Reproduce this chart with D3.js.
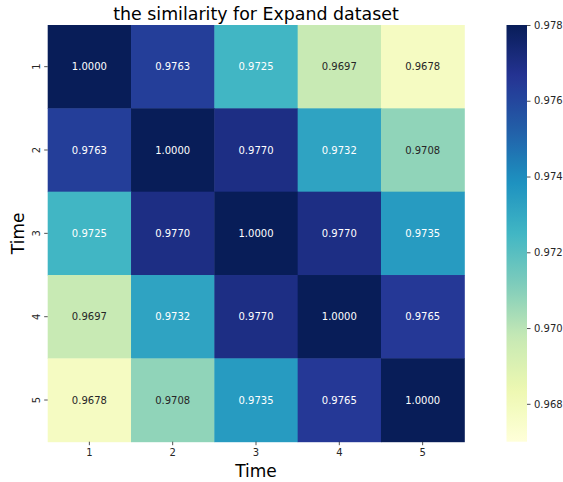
<!DOCTYPE html>
<html>
<head>
<meta charset="utf-8">
<script src="https://cdn.jsdelivr.net/npm/d3@7"></script>
<style>
  html, body { margin: 0; padding: 0; background: #fff; }
  svg { display: block; font-family: "DejaVu Sans", sans-serif; }
</style>
</head>
<body>
<svg id="chart" width="563" height="482"></svg>
<script>
// Pairwise similarity between time steps
const rowLabels = ["1", "2", "3", "4", "5"];
const colLabels = ["1", "2", "3", "4", "5"];
const row1 = [1.0000, 0.9763, 0.9725, 0.9697, 0.9678];
const row2 = [0.9763, 1.0000, 0.9770, 0.9732, 0.9708];
const row3 = [0.9725, 0.9770, 1.0000, 0.9770, 0.9735];
const row4 = [0.9697, 0.9732, 0.9770, 1.0000, 0.9765];
const row5 = [0.9678, 0.9708, 0.9735, 0.9765, 1.0000];
const matrix = [row1, row2, row3, row4, row5];
const colorbarTicks = [0.968, 0.970, 0.972, 0.974, 0.976, 0.978];
const vmin = 0.967, vmax = 0.978;

const svg = d3.select("#chart");

// Layout
const plotLeft = 47.7, plotRight = 464.3, plotTop = 25, plotBottom = 441.7;
const cbLeft = 506.5, cbRight = 527;

const x = d3.scaleBand().domain(colLabels).range([plotLeft, plotRight]).padding(0);
const y = d3.scaleBand().domain(rowLabels).range([plotTop, plotBottom]).padding(0);

// YlGnBu, linear between the nine ColorBrewer stops
const stops = ["#ffffd9", "#edf8b1", "#c7e9b4", "#7fcdbb", "#41b6c4", "#1d91c0", "#225ea8", "#253494", "#081d58"];
const ramp = d3.scaleLinear()
  .domain(stops.map((_, i) => i / (stops.length - 1)))
  .range(stops)
  .interpolate(d3.interpolateRgb)
  .clamp(true);
const norm = d3.scaleLinear().domain([vmin, vmax]).range([0, 1]).clamp(true);
const color = v => ramp(norm(v));

const cells = [];
matrix.forEach((row, i) => row.forEach((v, j) => cells.push({ r: rowLabels[i], c: colLabels[j], v })));

svg.append("g").selectAll("rect").data(cells).join("rect")
  .attr("x", d => x(d.c))
  .attr("y", d => y(d.r))
  .attr("width", x.bandwidth() + 0.5)
  .attr("height", y.bandwidth() + 0.5)
  .attr("fill", d => color(d.v));

// Annotation text colour follows cell luminance
function lum(c) {
  const rgb = d3.rgb(c);
  const f = u => { u /= 255; return u <= 0.03928 ? u / 12.92 : Math.pow((u + 0.055) / 1.055, 2.4); };
  return 0.2126 * f(rgb.r) + 0.7152 * f(rgb.g) + 0.0722 * f(rgb.b);
}

svg.append("g").selectAll("text").data(cells).join("text")
  .attr("x", d => x(d.c) + x.bandwidth() / 2)
  .attr("y", d => y(d.r) + y.bandwidth() / 2)
  .attr("text-anchor", "middle")
  .attr("dominant-baseline", "central")
  .attr("font-size", 10)
  .attr("fill", d => lum(color(d.v)) > 0.408 ? "#262626" : "#ffffff")
  .text(d => d.v.toFixed(4));

// Axes
const xAxis = svg.append("g")
  .attr("transform", `translate(0,${plotBottom})`)
  .call(d3.axisBottom(x).tickSize(3.5).tickPadding(3.5));
const yAxis = svg.append("g")
  .attr("transform", `translate(${plotLeft},0)`)
  .call(d3.axisLeft(y).tickSize(3.5).tickPadding(3.5));
[xAxis, yAxis].forEach(g => {
  g.select(".domain").remove();
  g.selectAll("line").attr("stroke", "#262626").attr("stroke-width", 0.8);
  g.selectAll("text").attr("fill", "#262626").attr("font-size", 10).attr("font-family", "DejaVu Sans, sans-serif");
});
yAxis.selectAll(".tick text")
  .attr("text-anchor", "middle")
  .attr("dy", null)
  .attr("x", null)
  .attr("transform", "translate(-11,0) rotate(-90)")
  .attr("dominant-baseline", "central");

// Titles
svg.append("text")
  .attr("x", (plotLeft + plotRight) / 2).attr("y", 20)
  .attr("text-anchor", "middle").attr("font-size", 17.4).attr("fill", "#000")
  .text("the similarity for Expand dataset");
svg.append("text")
  .attr("x", (plotLeft + plotRight) / 2).attr("y", 476.5)
  .attr("text-anchor", "middle").attr("font-size", 17).attr("fill", "#000")
  .text("Time");
svg.append("text")
  .attr("transform", `translate(23.5,${(plotTop + plotBottom) / 2}) rotate(-90)`)
  .attr("text-anchor", "middle").attr("font-size", 17).attr("fill", "#000")
  .text("Time");

// Colorbar
const cbScale = d3.scaleLinear().domain([vmin, vmax]).range([plotBottom, plotTop]);
const grad = svg.append("defs").append("linearGradient")
  .attr("id", "cbgrad").attr("x1", 0).attr("y1", 1).attr("x2", 0).attr("y2", 0);
d3.range(0, 1.0001, 0.02).forEach(t => {
  grad.append("stop").attr("offset", t).attr("stop-color", ramp(t));
});
svg.append("rect")
  .attr("x", cbLeft).attr("y", plotTop)
  .attr("width", cbRight - cbLeft).attr("height", plotBottom - plotTop)
  .attr("fill", "url(#cbgrad)");
const cbAxis = svg.append("g")
  .attr("transform", `translate(${cbRight},0)`)
  .call(d3.axisRight(cbScale).tickValues(colorbarTicks).tickFormat(d3.format(".3f")).tickSize(3.5).tickPadding(3.5));
cbAxis.select(".domain").remove();
cbAxis.selectAll("line").attr("stroke", "#262626").attr("stroke-width", 0.8);
cbAxis.selectAll("text").attr("fill", "#262626").attr("font-size", 10).attr("font-family", "DejaVu Sans, sans-serif");
</script>
</body>
</html>
